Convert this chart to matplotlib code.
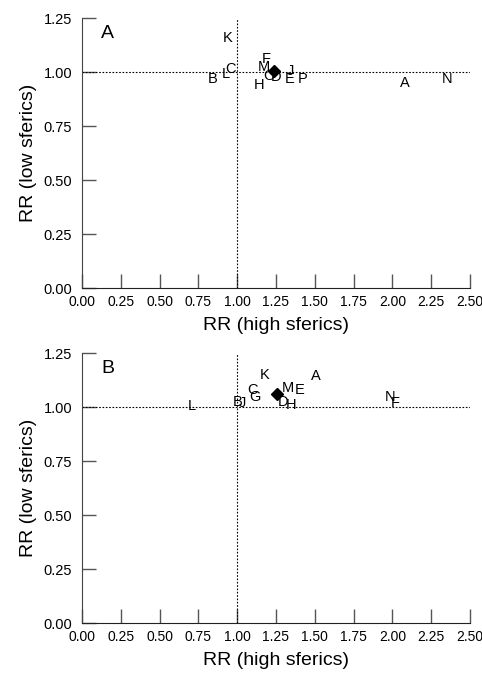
import matplotlib
matplotlib.use("Agg")
import matplotlib.pyplot as plt

plt.rcParams['font.family'] = ['Liberation Sans', 'DejaVu Sans']

# panel A: area labels and their (high, low) relative risks
labels_a = ['K', 'C', 'L', 'B', 'F', 'M', 'O', 'D', 'H', 'J', 'E', 'P', 'A', 'N']
rr_high_a = [0.94, 0.955, 0.925, 0.845, 1.19, 1.175, 1.205, 1.25, 1.14, 1.34, 1.335, 1.425, 2.08, 2.35]
rr_low_a = [1.157, 1.014, 0.99, 0.968, 1.06, 1.025, 0.981, 0.975, 0.94, 1.006, 0.968, 0.968, 0.948, 0.97]
pooled_a = (1.237, 1.005)

# panel B
labels_b = ['L', 'B', 'J', 'G', 'C', 'K', 'M', 'E', 'D', 'H', 'A', 'N', 'F']
rr_high_b = [0.707, 1.0, 1.035, 1.115, 1.10, 1.18, 1.33, 1.405, 1.297, 1.35, 1.51, 1.985, 2.017]
rr_low_b = [1.005, 1.025, 1.02, 1.048, 1.079, 1.148, 1.087, 1.079, 1.022, 1.009, 1.144, 1.048, 1.017]
pooled_b = (1.254, 1.062)

xticks = [0.0, 0.25, 0.5, 0.75, 1.0, 1.25, 1.5, 1.75, 2.0, 2.25, 2.5]
yticks = [0.0, 0.25, 0.5, 0.75, 1.0, 1.25]

fig = plt.figure(figsize=(4.82, 6.75), dpi=100)
ax_a = fig.add_axes([0.170, 0.5733, 0.805, 0.40])
ax_b = fig.add_axes([0.170, 0.0770, 0.805, 0.40])


def draw_panel(ax, letter, labels, xs, ys, pooled):
    ax.axvline(1.0, color='black', linestyle=(0, (1.5, 1.5)), linewidth=0.8)
    ax.axhline(1.0, color='black', linestyle=(0, (1.5, 1.5)), linewidth=0.8)
    for lab, x, y in zip(labels, xs, ys):
        ax.text(x, y, lab, ha='center', va='center', fontsize=10.5)
    ax.plot([pooled[0]], [pooled[1]], marker='D', color='black', markersize=6.5, linestyle='none')
    ax.set_xlim(0, 2.5)
    ax.set_ylim(0, 1.25)
    ax.set_xticks(xticks)
    ax.set_yticks(yticks)
    ax.set_xticklabels(['%.2f' % t for t in xticks])
    ax.set_yticklabels(['%.2f' % t for t in yticks])
    ax.tick_params(direction='in', length=10, width=1, color='#555555')
    ax.tick_params(axis='x', pad=5, labelsize=10)
    ax.tick_params(axis='y', pad=7, labelsize=10.5)
    ax.spines['top'].set_visible(False)
    ax.spines['right'].set_visible(False)
    ax.spines['left'].set_color('#444444')
    ax.spines['bottom'].set_color('#222222')
    ax.set_xlabel('RR (high sferics)', fontsize=14, labelpad=6)
    ax.set_ylabel('RR (low sferics)', fontsize=14, labelpad=5)
    ax.text(0.067, 0.944, letter, transform=ax.transAxes, ha='center', va='center', fontsize=14)


draw_panel(ax_a, 'A', labels_a, rr_high_a, rr_low_a, pooled_a)
draw_panel(ax_b, 'B', labels_b, rr_high_b, rr_low_b, pooled_b)

fig.savefig('out.png', dpi=100)
